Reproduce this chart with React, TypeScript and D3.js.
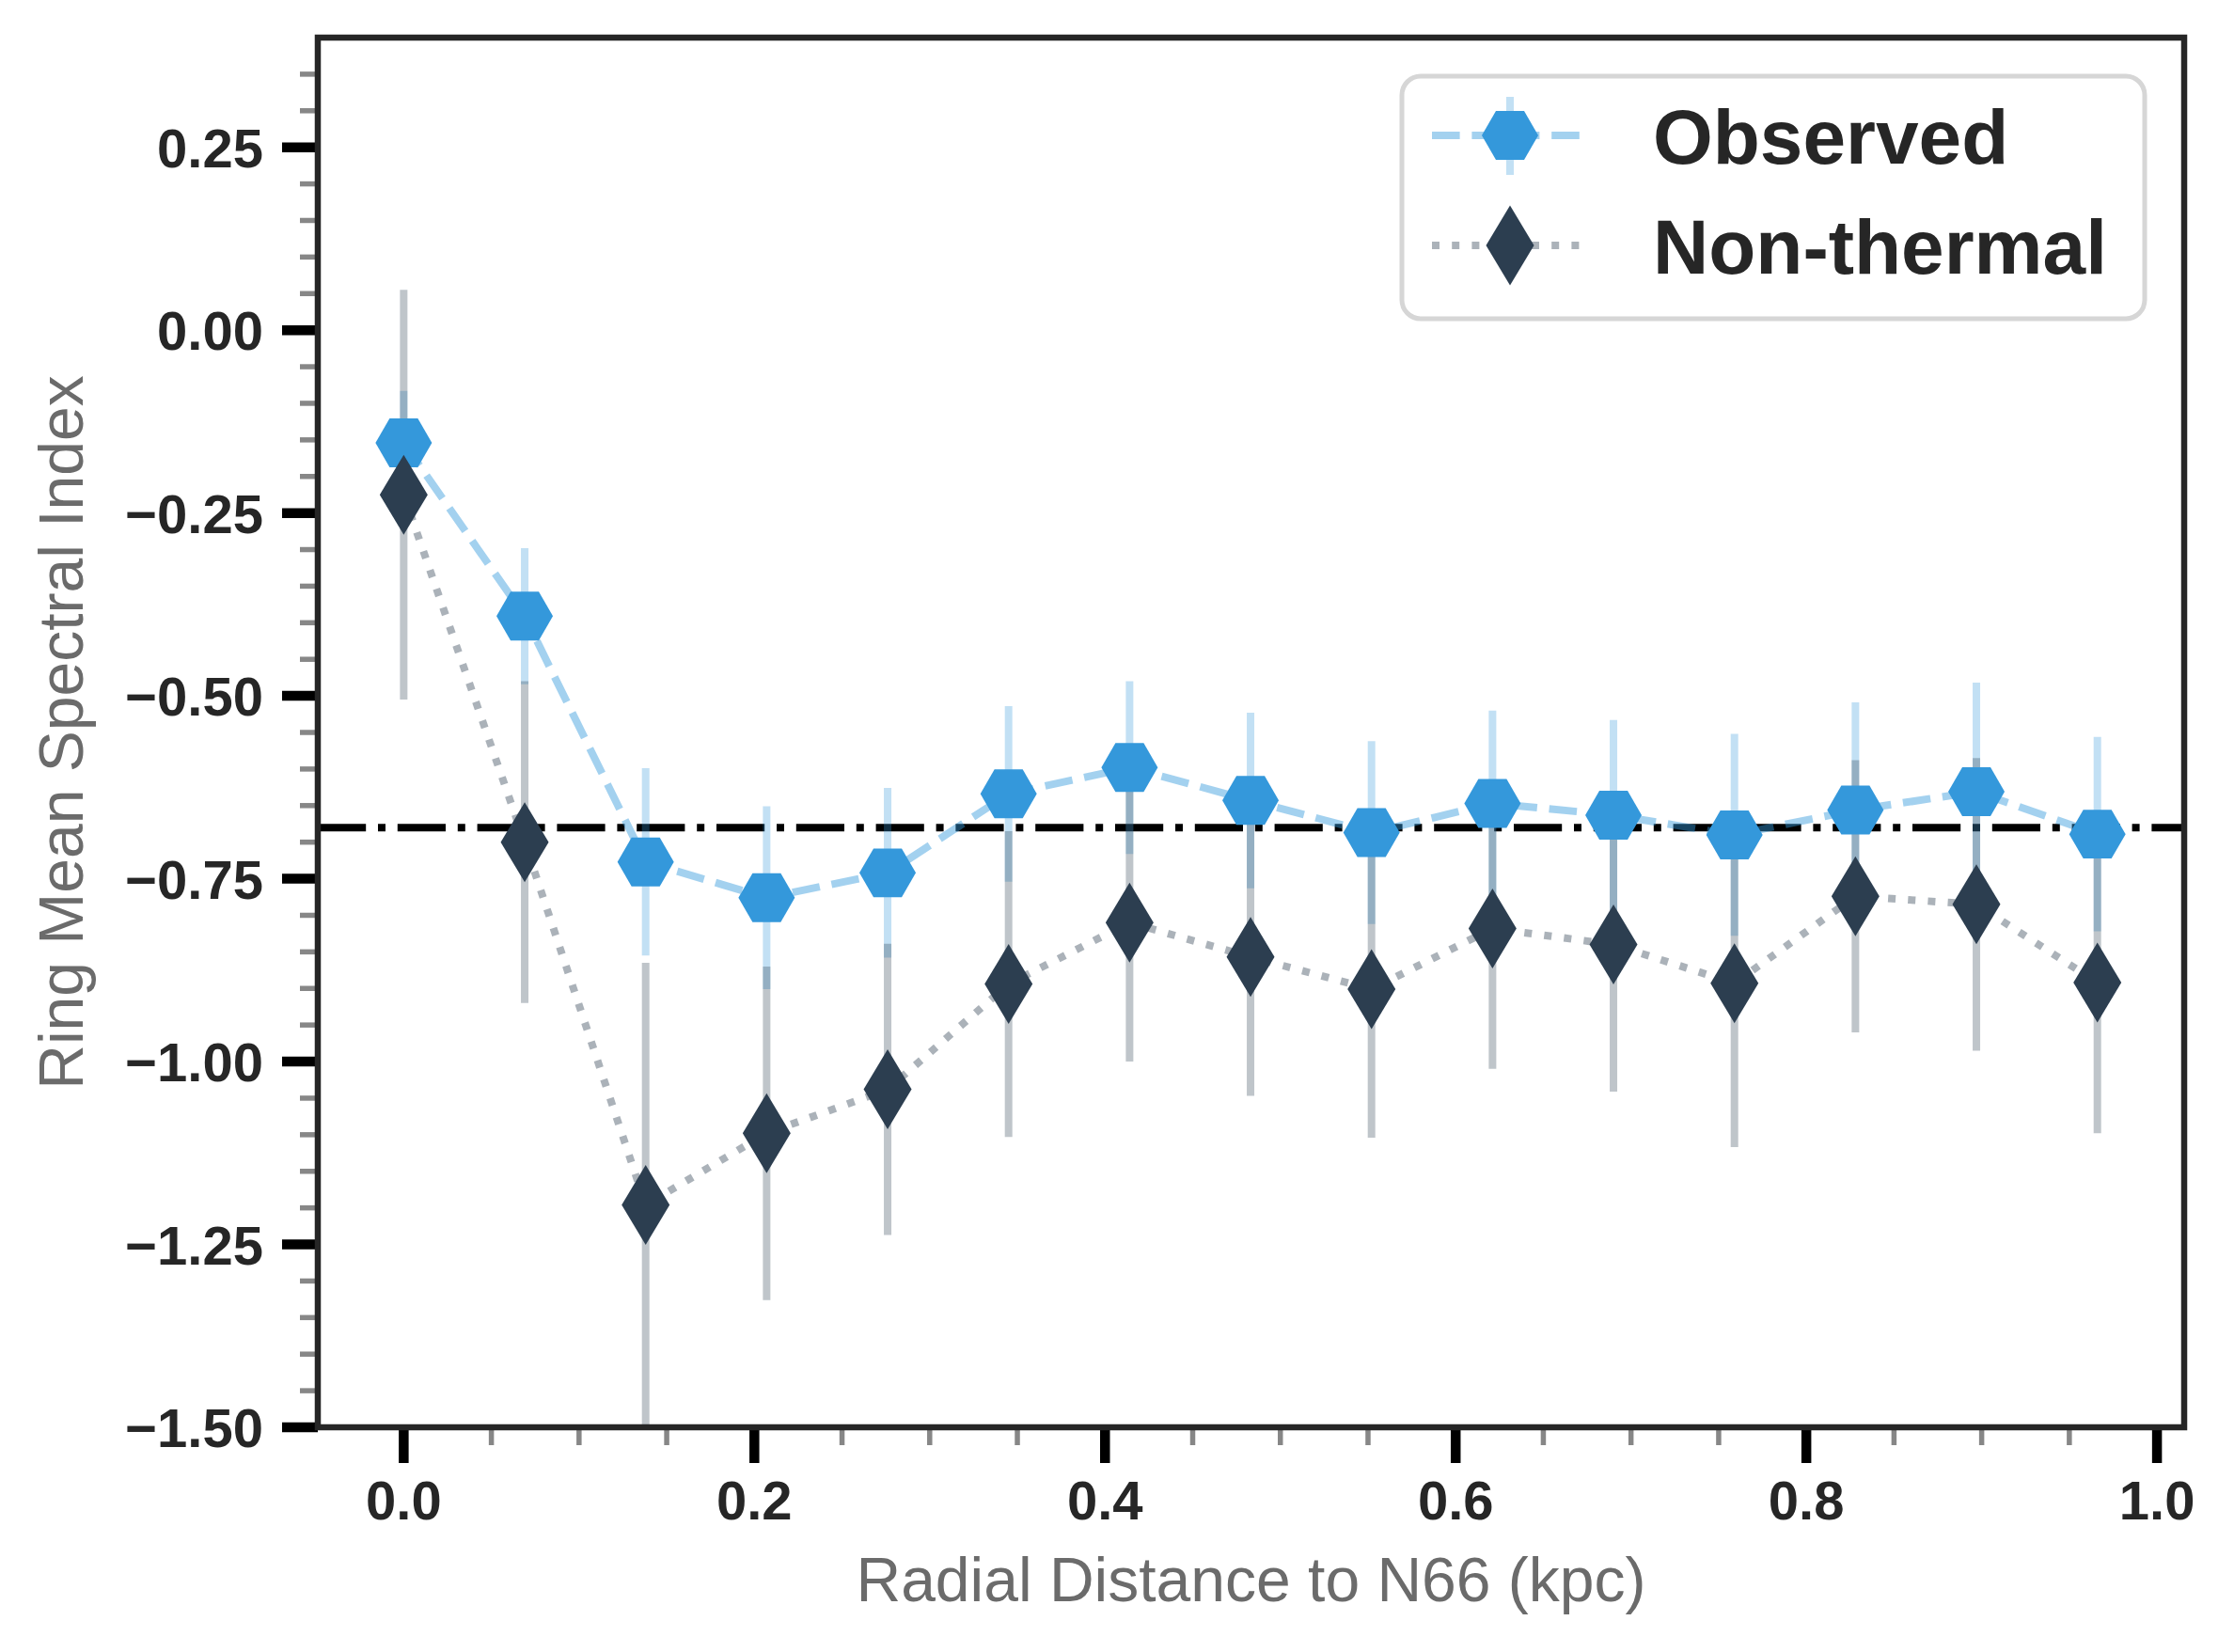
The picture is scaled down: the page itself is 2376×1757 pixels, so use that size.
import React from 'react'
import * as d3 from 'd3'

// radial distance of each ring (kpc)
const radius = [0, 0.069, 0.138, 0.207, 0.276, 0.345, 0.414, 0.483, 0.552, 0.621, 0.69, 0.759, 0.828, 0.897, 0.966]

const observed = [-0.154, -0.391, -0.727, -0.776, -0.742, -0.634, -0.598, -0.643, -0.687, -0.647, -0.663, -0.69, -0.656, -0.631, -0.689]
const observedErr = [0.071, 0.093, 0.128, 0.125, 0.116, 0.12, 0.118, 0.12, 0.125, 0.127, 0.13, 0.138, 0.147, 0.149, 0.133]

const nonThermal = [-0.225, -0.7, -1.196, -1.098, -1.038, -0.894, -0.81, -0.857, -0.901, -0.818, -0.84, -0.893, -0.774, -0.785, -0.892]
const nonThermalErr = [0.28, 0.22, 0.331, 0.228, 0.199, 0.209, 0.19, 0.19, 0.203, 0.192, 0.201, 0.224, 0.186, 0.2, 0.206]

const referenceIndex = -0.68

const xTicks = [0, 0.2, 0.4, 0.6, 0.8, 1.0]
const yTicks = [-1.5, -1.25, -1.0, -0.75, -0.5, -0.25, 0, 0.25]
const legendLabels = ['Observed', 'Non-thermal']

const W = 2376
const H = 1757
const left = 338
const right = 2323
const top = 40
const bottom = 1518

const BLUE = '#3498db'
const NAVY = '#2c3e50'
const FONT = '"Liberation Sans", Arial, Helvetica, sans-serif'

const hexPath = (r: number) =>
  d3.range(6).map((i) => {
    const a = (Math.PI / 3) * i
    return `${i ? 'L' : 'M'}${(r * Math.cos(a)).toFixed(2)},${(r * Math.sin(a)).toFixed(2)}`
  }).join('') + 'Z'

const diamondPath = (w: number, h: number) => `M0,${-h / 2}L${w / 2},0L0,${h / 2}L${-w / 2},0Z`

const HEX = hexPath(30)
const DIAMOND = diamondPath(51, 85)

export default function App() {
  const x = d3.scaleLinear().domain([-0.049, 1.0155]).range([left, right])
  const y = d3.scaleLinear().domain([-1.5, 0.4]).range([bottom, top])

  const line = d3
    .line<number>()
    .x((_, i) => x(radius[i]))
    .y((d) => y(d))

  const xMinor = d3.range(1, 20).map((i) => i * 0.05).filter((v) => Math.abs(v * 5 - Math.round(v * 5)) > 1e-6)
  const yMinor = d3.range(-30, 8).map((i) => i * 0.05).filter((v) => Math.abs(v * 4 - Math.round(v * 4)) > 1e-6)

  const fmtY = (v: number) => (v < 0 ? '\u2212' : '') + Math.abs(v).toFixed(2)

  return (
    <svg width={W} height={H} style={{ position: 'absolute', left: 0, top: 0, background: '#fff' }} fontFamily={FONT}>
      <defs>
        <clipPath id="plot">
          <rect x={left} y={top} width={right - left} height={bottom - top} />
        </clipPath>
      </defs>
      <rect width={W} height={H} fill="#fff" />

      <g clipPath="url(#plot)">
        {/* reference spectral index */}
        <line x1={left} x2={right} y1={y(referenceIndex)} y2={y(referenceIndex)} stroke="#000" strokeWidth={8} strokeDasharray="51.2 12.8 8 12.8" />

        {/* error bars */}
        {radius.map((r, i) => (
          <line key={'oe' + i} x1={x(r)} x2={x(r)} y1={y(observed[i] + observedErr[i])} y2={y(observed[i] - observedErr[i])} stroke={BLUE} strokeOpacity={0.3} strokeWidth={8} />
        ))}
        {radius.map((r, i) => (
          <line key={'ne' + i} x1={x(r)} x2={x(r)} y1={y(nonThermal[i] + nonThermalErr[i])} y2={y(nonThermal[i] - nonThermalErr[i])} stroke={NAVY} strokeOpacity={0.3} strokeWidth={8} />
        ))}

        {/* observed */}
        <path d={line(observed) || ''} fill="none" stroke={BLUE} strokeOpacity={0.45} strokeWidth={8} strokeDasharray="29.6 12.8" />
        {radius.map((r, i) => (
          <path key={'oh' + i} d={HEX} transform={`translate(${x(r)},${y(observed[i])})`} fill={BLUE} />
        ))}

        {/* non-thermal */}
        <path d={line(nonThermal) || ''} fill="none" stroke={NAVY} strokeOpacity={0.4} strokeWidth={8} strokeDasharray="8 13.2" />
        {radius.map((r, i) => (
          <path key={'nd' + i} d={DIAMOND} transform={`translate(${x(r)},${y(nonThermal[i])})`} fill={NAVY} />
        ))}
      </g>

      {/* ticks */}
      {yMinor.map((v) => (
        <line key={'ym' + v} x1={left - 19} x2={left} y1={y(v)} y2={y(v)} stroke="#878787" strokeWidth={5.5} />
      ))}
      {xMinor.map((v) => (
        <line key={'xm' + v} x1={x(v)} x2={x(v)} y1={bottom} y2={bottom + 19} stroke="#878787" strokeWidth={5.5} />
      ))}
      {yTicks.map((v) => (
        <g key={'y' + v}>
          <line x1={left - 38} x2={left} y1={y(v)} y2={y(v)} stroke="#000" strokeWidth={10.5} />
          <text x={280} y={y(v) + 21} textAnchor="end" fontSize={58} fontWeight="bold" fill="#262626">{fmtY(v)}</text>
        </g>
      ))}
      {xTicks.map((v) => (
        <g key={'x' + v}>
          <line x1={x(v)} x2={x(v)} y1={bottom} y2={bottom + 38} stroke="#000" strokeWidth={10.5} />
          <text x={x(v)} y={1616} textAnchor="middle" fontSize={58} fontWeight="bold" fill="#262626">{v.toFixed(1)}</text>
        </g>
      ))}

      {/* frame */}
      <rect x={left} y={top} width={right - left} height={bottom - top} fill="none" stroke="#262626" strokeWidth={6.5} />

      {/* axis labels */}
      <text x={(left + right) / 2} y={1703} textAnchor="middle" fontSize={66} fill="#6b6b6b">Radial Distance to N66 (kpc)</text>
      <text transform={`translate(88,${(top + bottom) / 2}) rotate(-90)`} textAnchor="middle" fontSize={66} fill="#6b6b6b">Ring Mean Spectral Index</text>

      {/* legend */}
      <g>
        <rect x={1491} y={81} width={790} height={258} rx={20} fill="#fff" fillOpacity={0.8} stroke="#d6d6d6" strokeWidth={5} />
        <line x1={1523} x2={1686} y1={144} y2={144} stroke={BLUE} strokeOpacity={0.45} strokeWidth={8} strokeDasharray="29.6 12.8" />
        <line x1={1606} x2={1606} y1={103} y2={186} stroke={BLUE} strokeOpacity={0.3} strokeWidth={8} />
        <path d={HEX} transform="translate(1606,144)" fill={BLUE} />
        <text x={1758} y={174} fontSize={82} fontWeight="bold" fill="#262626">{legendLabels[0]}</text>

        <line x1={1523} x2={1686} y1={261} y2={261} stroke={NAVY} strokeOpacity={0.4} strokeWidth={8} strokeDasharray="8 13.2" />
        <path d={DIAMOND} transform="translate(1606,261)" fill={NAVY} />
        <text x={1758} y={291} fontSize={82} fontWeight="bold" fill="#262626">{legendLabels[1]}</text>
      </g>
    </svg>
  )
}
